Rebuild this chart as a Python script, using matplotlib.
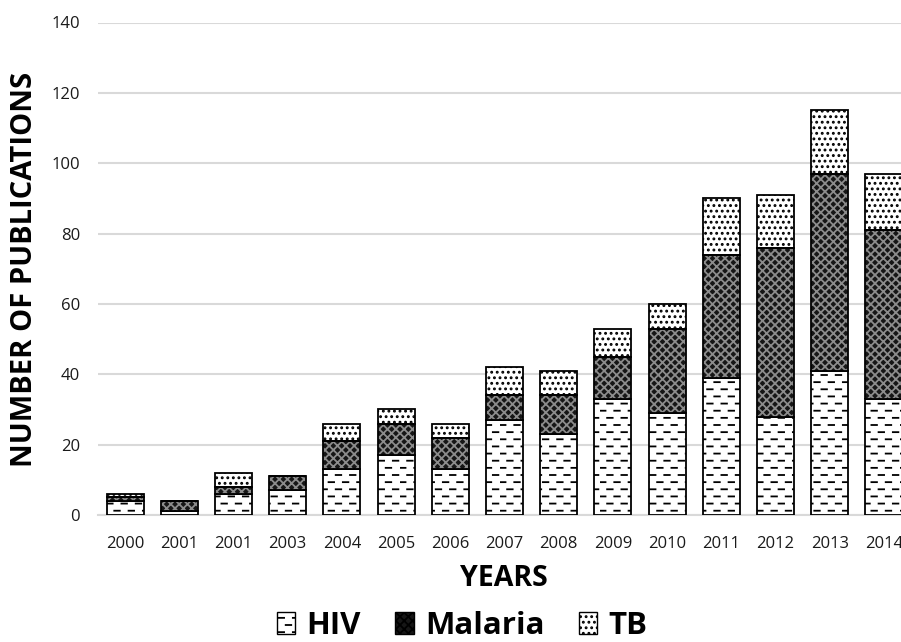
import numpy as np
import matplotlib
matplotlib.use("Agg")
import matplotlib.pyplot as plt
import matplotlib.hatch as mhatch
from matplotlib.path import Path
from matplotlib.patches import Patch

# ---- data ----
years = ["2000", "2001", "2001", "2003", "2004", "2005", "2006", "2007",
         "2008", "2009", "2010", "2011", "2012", "2013", "2014"]
hiv = [4, 1, 6, 7, 13, 17, 13, 27, 23, 33, 29, 39, 28, 41, 33]
malaria = [1, 3, 2, 4, 8, 9, 9, 7, 11, 12, 24, 35, 48, 56, 48]
tb = [1, 0, 4, 0, 5, 4, 4, 8, 7, 8, 7, 16, 15, 18, 16]
series_names = ["HIV", "Malaria", "TB"]
yticks = [0, 20, 40, 60, 80, 100, 120, 140]


# ---- custom dashed hatch (brick-like short dashes) ----
class DashHatch(mhatch.HatchPatternBase):
    def __init__(self, hatch, density):
        n = hatch.count('_')
        self.num_rows = 14 if n else 0
        self.per_row = 7
        self.num_vertices = self.num_rows * self.per_row * 2

    def set_vertices_and_codes(self, vertices, codes):
        k = 0
        dash = 0.055
        period = 1.0 / self.per_row
        for r in range(self.num_rows):
            y = (r + 0.5) / self.num_rows
            off = 0.0 if r % 2 == 0 else period / 2
            for c in range(self.per_row):
                x0 = (c * period + off) % 1.0
                x1 = min(x0 + dash, 1.0)
                vertices[k] = (x0, y)
                vertices[k + 1] = (x1, y)
                codes[k] = Path.MOVETO
                codes[k + 1] = Path.LINETO
                k += 2

mhatch._hatch_types.append(DashHatch)
try:
    mhatch.valid_hatch_patterns = set(mhatch.valid_hatch_patterns) | {'_'}
except Exception:
    pass

plt.rcParams['font.family'] = ['Open Sans', 'DejaVu Sans']
plt.rcParams['hatch.linewidth'] = 1.3

W, H = 901, 642
fig = plt.figure(figsize=(W / 100, H / 100), dpi=100)
# axes spans from x=98px to x=911px (cropped at right edge)
left = 98 / W
right = 911 / W
bottom = 1 - 515 / H
top = 1 - 22.5 / H
ax = fig.add_axes([left, bottom, right - left, top - bottom])

x = np.arange(len(years))
width = 0.68
hiv_a = np.array(hiv, float)
mal_a = np.array(malaria, float)
tb_a = np.array(tb, float)

MAL_FACE = '#161616'
MAL_HATCH = '#8c8c8c'

ax.bar(x, hiv_a, width, color='white', edgecolor='black', hatch='_',
       linewidth=1.3, zorder=3)
# malaria: dark fill with light pattern
ax.bar(x, mal_a, width, bottom=hiv_a, color=MAL_FACE, edgecolor=MAL_HATCH,
       hatch='xxxx', linewidth=0, zorder=3)
ax.bar(x, mal_a, width, bottom=hiv_a, fill=False, edgecolor='black',
       linewidth=1.3, zorder=4)
ax.bar(x, tb_a, width, bottom=hiv_a + mal_a, color='white', edgecolor='black',
       hatch='...', linewidth=1.3, zorder=3)

ax.set_xlim(-0.5, len(years) - 0.5)
ax.set_ylim(0, 140)
ax.set_yticks(yticks)
ax.set_xticks(x)
ax.set_xticklabels(years)
ax.tick_params(axis='both', length=0, labelsize=12, colors='#1a1a1a')
ax.tick_params(axis='y', pad=13)
ax.tick_params(axis='x', pad=15)
ax.grid(axis='y', color='#d9d9d9', linewidth=1.5, zorder=0)
for s in ['top', 'right', 'left']:
    ax.spines[s].set_visible(False)
ax.spines['bottom'].set_color('#d9d9d9')
ax.spines['bottom'].set_linewidth(1.5)

fig.text(25 / W, 1 - 269 / H, "NUMBER OF PUBLICATIONS", rotation=90,
         ha='center', va='center', fontsize=21, fontweight='bold')
fig.text(504 / W, 1 - 579 / H, "YEARS", ha='center', va='center',
         fontsize=20.5, fontweight='bold')

handles = [
    Patch(facecolor='white', edgecolor='black', hatch='_', linewidth=1),
    Patch(facecolor=MAL_FACE, edgecolor='black', hatch='xxxx', linewidth=1),
    Patch(facecolor='white', edgecolor='black', hatch='...', linewidth=1),
]
leg = fig.legend(handles, series_names, loc='center', ncol=3,
                 bbox_to_anchor=(462 / W, 1 - 626 / H), frameon=False,
                 prop={'size': 22.5, 'weight': 'bold'}, handlelength=0.6,
                 handleheight=0.7, handletextpad=0.35, columnspacing=1.1)

fig.savefig("out.png", dpi=100)
